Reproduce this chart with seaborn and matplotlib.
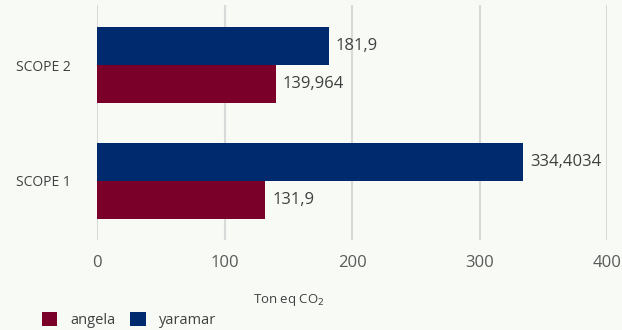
import matplotlib
matplotlib.use("Agg")
import matplotlib.pyplot as plt
from matplotlib.patches import Patch
import pandas as pd
import seaborn as sns

# Emissions by scope, tonnes of CO2 equivalent
categories = ["SCOPE 2", "SCOPE 1"]
angela = [139.964, 131.9]
yaramar = [181.9, 334.4034]
x_ticks = [0, 100, 200, 300, 400]

ANGELA_COLOR = "#7a0029"
YARAMAR_COLOR = "#002a6e"
BG = "#f8fbf5"
TEXT = "#404040"

sns.set_theme(style="white")
plt.rcParams["font.family"] = ["Open Sans", "DejaVu Sans"]

df = pd.DataFrame({
    "scope": categories * 2,
    "value": yaramar + angela,
    "company": ["yaramar"] * len(categories) + ["angela"] * len(categories),
})

fig = plt.figure(figsize=(6.22, 3.30), dpi=100, facecolor=BG)
ax = fig.add_axes([0.156, 0.273, 0.82, 0.712])
ax.set_facecolor(BG)

sns.barplot(
    data=df, y="scope", x="value", hue="company",
    order=categories, hue_order=["yaramar", "angela"],
    palette={"angela": ANGELA_COLOR, "yaramar": YARAMAR_COLOR},
    saturation=1, orient="h", width=0.655, errorbar=None, legend=False,
    edgecolor="none", ax=ax,
)

# value labels in Italian decimal notation
for container in ax.containers:
    vals = [float(bar.get_width()) for bar in container]
    ax.bar_label(container, labels=[repr(round(v, 4)).replace(".", ",") for v in vals],
                 padding=5, fontsize=12, color=TEXT)

ax.set_xlim(0, 400)
ax.set_ylim(1.51, -0.52)
ax.set_xticks(x_ticks)
ax.set_xticklabels([str(t) for t in x_ticks], fontsize=12, color="#595959")
ax.tick_params(axis="x", length=0, pad=11)
ax.tick_params(axis="y", length=0, pad=19, labelsize=10, labelcolor=TEXT)
ax.xaxis.grid(True, color="#d9d9d9", linewidth=1.5)
ax.set_axisbelow(True)
for s in ax.spines.values():
    s.set_visible(False)
ax.set_xlabel("")
ax.set_ylabel("")

fig.text(289 / 622, 1 - 300 / 330, "Ton eq CO$_2$", ha="center", va="center",
         fontsize=9.5, color=TEXT)

handles = [Patch(facecolor=ANGELA_COLOR, edgecolor="none", label="angela"),
           Patch(facecolor=YARAMAR_COLOR, edgecolor="none", label="yaramar")]
fig.legend(handles=handles, loc="center left", bbox_to_anchor=(42 / 622, 1 - 320 / 330),
           ncol=2, frameon=False, fontsize=10.5, labelcolor=TEXT,
           handlelength=1.05, handleheight=1.1, handletextpad=0.9, columnspacing=1.0,
           borderaxespad=0, borderpad=0)

fig.savefig("out.png", dpi=100, facecolor=BG)
